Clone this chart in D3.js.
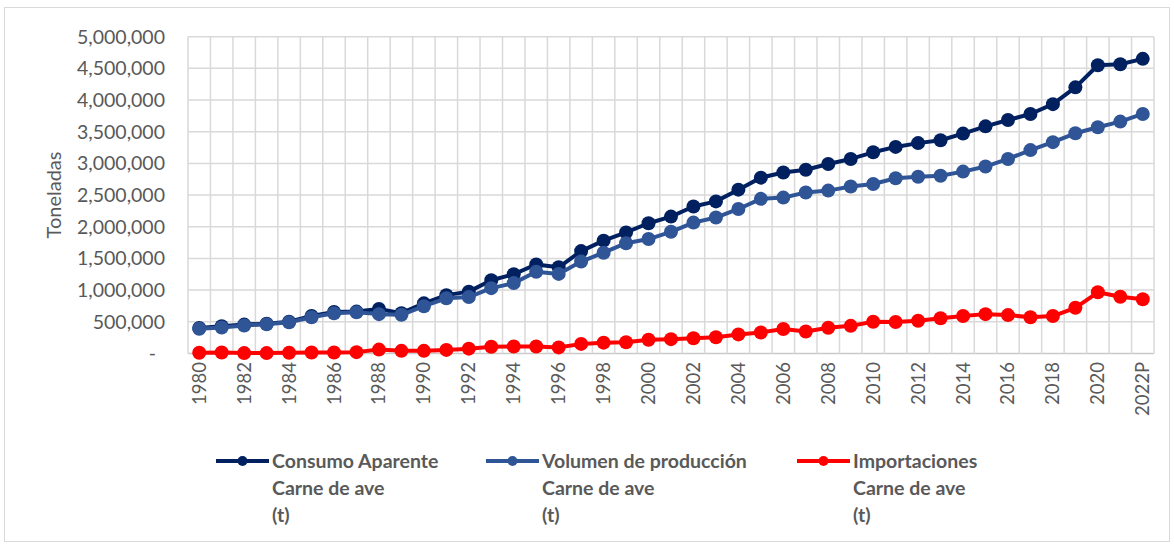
<!DOCTYPE html>
<html>
<head>
<meta charset="utf-8">
<script src="https://cdn.jsdelivr.net/npm/d3@7"></script>
<style>
    body { margin: 0; background: #fff; }
    svg { display: block; font-family: Lato, "Open Sans", sans-serif; }
</style>
</head>
<body>
<svg id="chart" width="1174" height="544"></svg>
<script>
const years = ["1980", "1981", "1982", "1983", "1984", "1985", "1986", "1987", "1988", "1989",
    "1990", "1991", "1992", "1993", "1994", "1995", "1996", "1997", "1998", "1999",
    "2000", "2001", "2002", "2003", "2004", "2005", "2006", "2007", "2008", "2009",
    "2010", "2011", "2012", "2013", "2014", "2015", "2016", "2017", "2018", "2019",
    "2020", "2021", "2022P"]

const consumo = [400000, 430000, 455000, 470000, 500000, 590000, 655000, 660000, 700000, 635000,
    790000, 920000, 975000, 1155000, 1250000, 1405000, 1360000, 1615000, 1780000, 1910000,
    2055000, 2160000, 2320000, 2400000, 2585000, 2775000, 2855000, 2900000, 2990000, 3070000,
    3175000, 3260000, 3320000, 3365000, 3470000, 3585000, 3685000, 3780000, 3935000, 4200000,
    4550000, 4565000, 4650000]

const produccion = [390000, 410000, 440000, 460000, 490000, 570000, 635000, 650000, 620000, 610000,
    745000, 870000, 890000, 1030000, 1110000, 1290000, 1255000, 1450000, 1590000, 1740000,
    1805000, 1920000, 2065000, 2145000, 2280000, 2440000, 2460000, 2540000, 2570000, 2635000,
    2675000, 2765000, 2790000, 2805000, 2870000, 2950000, 3070000, 3210000, 3335000, 3475000,
    3570000, 3660000, 3780000]

const importaciones = [10000, 15000, 5000, 5000, 10000, 15000, 15000, 20000, 60000, 40000,
    40000, 55000, 75000, 105000, 110000, 110000, 95000, 150000, 170000, 175000,
    215000, 225000, 240000, 255000, 300000, 330000, 385000, 345000, 405000, 435000,
    500000, 495000, 515000, 555000, 590000, 620000, 605000, 570000, 590000, 720000,
    965000, 895000, 855000]

const yTicks = [0, 500000, 1000000, 1500000, 2000000, 2500000, 3000000, 3500000, 4000000, 4500000, 5000000]

const seriesNames = [
    ["Consumo Aparente", "Carne de ave", "(t)"],
    ["Volumen de producción", "Carne de ave", "(t)"],
    ["Importaciones", "Carne de ave", "(t)"]
]
const seriesColors = ["#002060", "#2f5597", "#ff0000"]
const seriesValues = [consumo, produccion, importaciones]

const width = 1174
const height = 544
const plot = {left: 188, right: 1154, top: 36.7, bottom: 353.4}
const textColor = "#595959"
const gridColor = "#d9d9d9"

const svg = d3.select("#chart")

// chart frame
svg.append("rect")
    .attr("x", 4.5)
    .attr("y", 7.5)
    .attr("width", 1165)
    .attr("height", 534)
    .attr("fill", "none")
    .attr("stroke", gridColor)
    .attr("stroke-width", 1)

// title, cut off at the top of the picture as in the source
svg.append("text")
    .attr("x", 597)
    .attr("y", -4)
    .attr("text-anchor", "middle")
    .attr("font-weight", "bold")
    .attr("font-size", "20px")
    .attr("fill", "#262626")
    .text("Figura 1. Consumo aparente, volumen de producción e importaciones de carne de ave, 1980-2022")

const x = d3.scaleBand()
    .domain(years)
    .range([plot.left, plot.right])

const y = d3.scaleLinear()
    .domain([0, 5000000])
    .range([plot.bottom, plot.top])

const cx = d => x(d) + x.bandwidth() / 2

// grid
const grid = svg.append("g").attr("class", "grid")

grid.selectAll(".hgrid")
    .data(yTicks)
    .join("line")
    .attr("class", "hgrid")
    .attr("x1", plot.left)
    .attr("x2", plot.right)
    .attr("y1", d => y(d))
    .attr("y2", d => y(d))
    .attr("stroke", (d, i) => i === 0 ? "#c9c9c9" : gridColor)
    .attr("stroke-width", 1.5)

grid.selectAll(".vgrid")
    .data(years.map(d => x(d)).concat([plot.right]))
    .join("line")
    .attr("class", "vgrid")
    .attr("x1", d => d)
    .attr("x2", d => d)
    .attr("y1", plot.top)
    .attr("y2", plot.bottom)
    .attr("stroke", gridColor)
    .attr("stroke-width", 1.5)

// y tick labels
svg.append("g")
    .selectAll("text")
    .data(yTicks)
    .join("text")
    .attr("x", d => d === 0 ? 156 : 165)
    .attr("y", d => y(d))
    .attr("dy", "0.35em")
    .attr("text-anchor", "end")
    .attr("font-size", "19.5px")
    .attr("fill", textColor)
    .text(d => d === 0 ? "-" : d3.format(",")(d))

// y axis title
svg.append("text")
    .attr("transform", "translate(54, 195) rotate(-90)")
    .attr("text-anchor", "middle")
    .attr("dy", "0.35em")
    .attr("font-size", "20px")
    .attr("fill", textColor)
    .text("Toneladas")

// x tick labels, every other year
svg.append("g")
    .selectAll("text")
    .data(years.filter((d, i) => i % 2 === 0))
    .join("text")
    .attr("transform", d => `translate(${cx(d)}, 362) rotate(-90)`)
    .attr("text-anchor", "end")
    .attr("dy", "0.35em")
    .attr("font-size", "18.5px")
    .attr("fill", textColor)
    .text(d => d)

// series
const line = d3.line()
    .x((d, i) => cx(years[i]))
    .y(d => y(d))

seriesValues.forEach((values, s) => {
    const g = svg.append("g").attr("class", "series")

    g.append("path")
        .datum(values)
        .attr("d", line)
        .attr("fill", "none")
        .attr("stroke", seriesColors[s])
        .attr("stroke-width", 4)
        .attr("stroke-linejoin", "round")

    g.selectAll("circle")
        .data(values)
        .join("circle")
        .attr("cx", (d, i) => cx(years[i]))
        .attr("cy", d => y(d))
        .attr("r", 7)
        .attr("fill", seriesColors[s])
})

// legend
const legendX = [216, 486, 797]

const legend = svg.append("g")
    .selectAll("g")
    .data(seriesNames)
    .join("g")
    .attr("transform", (d, i) => `translate(${legendX[i]}, 461)`)

legend.append("line")
    .attr("x1", 0)
    .attr("x2", 53)
    .attr("stroke", (d, i) => seriesColors[i])
    .attr("stroke-width", 4)

legend.append("circle")
    .attr("cx", 26.5)
    .attr("r", 5)
    .attr("fill", (d, i) => seriesColors[i])

legend.append("text")
    .attr("font-size", "19.5px")
    .attr("font-weight", "bold")
    .attr("fill", textColor)
    .each(function (d) {
        d3.select(this).selectAll("tspan")
            .data(d)
            .join("tspan")
            .attr("x", 56)
            .attr("y", (t, i) => i * 27)
            .attr("dy", "0.35em")
            .text(t => t)
    })
</script>
</body>
</html>
